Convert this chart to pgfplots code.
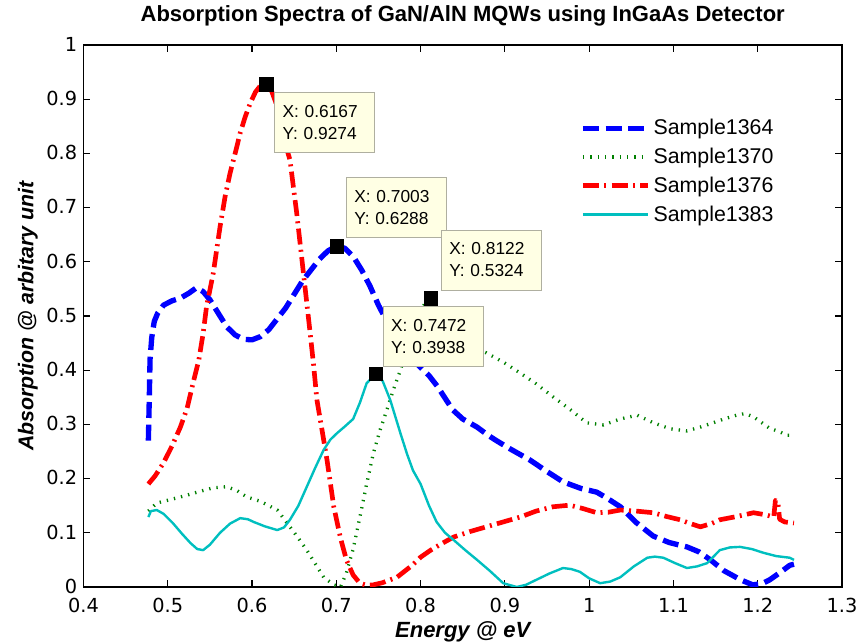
\documentclass[border=0pt]{standalone}
\usepackage{fontspec}
\setmainfont{Liberation Sans}
\newfontfamily\tickfont{DejaVu Sans}
\usepackage{pgfplots}
\pgfplotsset{compat=1.18}
\definecolor{tipfill}{RGB}{255,255,228}
\definecolor{tipdraw}{RGB}{175,175,160}
\definecolor{mgreen}{RGB}{0,128,0}
\definecolor{mcyan}{RGB}{0,191,191}
\tikzset{tip/.style={draw=tipdraw, fill=tipfill, line width=0.6pt, font=\fontsize{13}{16.5}\selectfont, align=left, text width=63pt, inner xsep=6pt, inner ysep=0pt, minimum height=45pt}}
\begin{document}
\begin{tikzpicture}
\begin{axis}[
  scale only axis, width=568.9pt, height=406.5pt,
  xmin=0.4, xmax=1.3, ymin=0, ymax=1,
  xtick={0.4,0.5,0.6,0.7,0.8,0.9,1,1.1,1.2,1.3},
  ytick={0,0.1,0.2,0.3,0.4,0.5,0.6,0.7,0.8,0.9,1},
  tick align=inside, tick pos=both,
  major tick length=5pt,
  axis line style={line width=0.9pt},
  every tick/.style={black, line width=0.8pt},
  /pgf/number format/assume math mode=true,
  tick label style={font=\tickfont\fontsize{14.5}{14.5}\selectfont},
  xticklabel style={anchor=north, inner sep=0pt, yshift=-8pt},
  yticklabel style={anchor=east, inner sep=0pt, xshift=-4.5pt, yshift=0.5pt},
  title={Absorption Spectra of GaN/AlN MQWs using InGaAs Detector},
  title style={at={(axis description cs:0.5,1.0277)}, anchor=base, font=\bfseries\fontsize{16.5}{16.5}\selectfont},
  xlabel={Energy @ eV},
  xlabel style={at={(axis description cs:0.5,-0.0923)}, anchor=base, font=\bfseries\itshape\fontsize{16.5}{16.5}\selectfont},
  ylabel={Absorption @ arbitary unit},
  ylabel style={at={(axis description cs:-0.0659,0.5)}, anchor=base, font=\bfseries\itshape\fontsize{16}{16}\selectfont},
  legend style={at={(axis description cs:0.6546,0.868)}, anchor=north west, draw=none, fill=white, inner sep=0pt, font=\fontsize{16}{16}\selectfont, row sep=4.5pt, nodes={inner sep=2pt}},
  legend cell align=left,
  legend image code/.code={\draw[#1] (-3pt,0pt) -- (46pt,0pt);},
]
\addplot[blue, line width=4pt, dash pattern=on 12pt off 5pt, line join=round] coordinates {
(0.477,0.27) (0.478,0.34) (0.479,0.42) (0.481,0.46) (0.484,0.49) (0.488,0.505) (0.495,0.52)
(0.505,0.528) (0.515,0.533) (0.525,0.542) (0.534,0.552) (0.542,0.545) (0.550,0.53) (0.560,0.505)
(0.570,0.48) (0.580,0.465) (0.590,0.457) (0.600,0.456) (0.610,0.462) (0.620,0.475) (0.630,0.495)
(0.640,0.515) (0.650,0.54) (0.660,0.565) (0.670,0.585) (0.680,0.605) (0.690,0.62) (0.700,0.629)
(0.710,0.625) (0.720,0.61) (0.730,0.585) (0.740,0.555) (0.750,0.52) (0.760,0.49) (0.770,0.46)
(0.780,0.435) (0.790,0.42) (0.800,0.405) (0.810,0.39) (0.820,0.37) (0.838,0.327) (0.850,0.31)
(0.867,0.295) (0.880,0.28) (0.890,0.27) (0.906,0.255) (0.930,0.234) (0.950,0.213) (0.969,0.194)
(0.990,0.182) (1.009,0.175) (1.020,0.165) (1.037,0.148) (1.055,0.12) (1.076,0.094) (1.095,0.082)
(1.116,0.074) (1.130,0.065) (1.144,0.05) (1.160,0.03) (1.180,0.013) (1.194,0.004) (1.205,0.006)
(1.214,0.013) (1.225,0.025) (1.238,0.04) (1.243,0.042)};
\addlegendentry{Sample1364}
\addplot[mgreen, line width=2.5pt, dash pattern=on 1pt off 4.5pt] coordinates {
(0.477,0.14) (0.487,0.155) (0.50,0.16) (0.515,0.166) (0.535,0.175) (0.554,0.183) (0.57,0.185)
(0.582,0.178) (0.594,0.166) (0.610,0.158) (0.630,0.142) (0.645,0.111) (0.655,0.09) (0.665,0.068)
(0.675,0.043) (0.685,0.018) (0.697,0.004) (0.705,0.0) (0.712,0.026) (0.720,0.07) (0.728,0.129)
(0.736,0.19) (0.744,0.247) (0.752,0.29) (0.760,0.327) (0.768,0.365) (0.776,0.40) (0.786,0.45)
(0.796,0.50) (0.806,0.525) (0.812,0.532) (0.820,0.52) (0.835,0.49) (0.850,0.46) (0.865,0.44)
(0.878,0.432) (0.898,0.415) (0.918,0.395) (0.937,0.375) (0.957,0.351) (0.977,0.328) (0.997,0.303)
(1.017,0.299) (1.037,0.31) (1.057,0.317) (1.076,0.303) (1.096,0.292) (1.116,0.288) (1.132,0.295)
(1.147,0.303) (1.160,0.31) (1.175,0.317) (1.185,0.32) (1.195,0.314) (1.205,0.303) (1.214,0.293)
(1.225,0.287) (1.235,0.28) (1.243,0.28)};
\addlegendentry{Sample1370}
\addplot[red, line width=3.5pt, dash pattern=on 12pt off 4pt on 1.5pt off 4pt, line join=round] coordinates {
(0.477,0.19) (0.485,0.205) (0.495,0.229) (0.505,0.26) (0.515,0.295) (0.523,0.33) (0.530,0.376)
(0.537,0.42) (0.542,0.468) (0.546,0.517) (0.554,0.579) (0.562,0.664) (0.568,0.72) (0.574,0.764)
(0.580,0.80) (0.586,0.838) (0.592,0.868) (0.598,0.893) (0.604,0.913) (0.610,0.925) (0.6167,0.9274)
(0.622,0.92) (0.628,0.895) (0.633,0.856) (0.639,0.82) (0.645,0.788) (0.653,0.69) (0.661,0.579)
(0.669,0.468) (0.673,0.41) (0.677,0.345) (0.683,0.29) (0.689,0.234) (0.697,0.148) (0.705,0.09)
(0.712,0.05) (0.720,0.022) (0.728,0.007) (0.736,0.003) (0.744,0.004) (0.755,0.008) (0.772,0.018)
(0.790,0.04) (0.800,0.055) (0.812,0.068) (0.825,0.08) (0.839,0.092) (0.858,0.102) (0.878,0.111)
(0.898,0.12) (0.918,0.129) (0.937,0.14) (0.957,0.148) (0.977,0.151) (0.992,0.145) (1.009,0.137)
(1.023,0.138) (1.037,0.142) (1.056,0.14) (1.076,0.137) (1.092,0.13) (1.108,0.124) (1.120,0.117)
(1.132,0.111) (1.145,0.117) (1.155,0.124) (1.175,0.13) (1.195,0.137) (1.210,0.133) (1.219,0.129)
(1.221,0.16) (1.224,0.155) (1.226,0.125) (1.232,0.12) (1.243,0.118)};
\addlegendentry{Sample1376}
\addplot[mcyan, line width=1.8pt, line join=round] coordinates {
(0.477,0.129) (0.480,0.14) (0.487,0.142) (0.495,0.135) (0.506,0.118) (0.517,0.098) (0.527,0.081)
(0.535,0.07) (0.542,0.068) (0.550,0.078) (0.562,0.1) (0.574,0.117) (0.586,0.127) (0.595,0.125)
(0.602,0.12) (0.615,0.112) (0.630,0.105) (0.638,0.11) (0.645,0.124) (0.655,0.15) (0.665,0.185)
(0.675,0.22) (0.685,0.253) (0.693,0.272) (0.701,0.284) (0.710,0.296) (0.720,0.31) (0.728,0.34)
(0.736,0.376) (0.7472,0.3938) (0.755,0.38) (0.764,0.345) (0.776,0.284) (0.784,0.245) (0.791,0.215)
(0.800,0.19) (0.810,0.15) (0.819,0.12) (0.829,0.1) (0.839,0.087) (0.853,0.068) (0.867,0.05)
(0.882,0.03) (0.898,0.007) (0.914,0.0) (0.925,0.004) (0.937,0.013) (0.953,0.025) (0.969,0.035)
(0.979,0.033) (0.989,0.028) (1.000,0.016) (1.013,0.007) (1.025,0.01) (1.037,0.018) (1.053,0.038)
(1.069,0.054) (1.078,0.056) (1.088,0.054) (1.102,0.044) (1.116,0.035) (1.128,0.038) (1.140,0.044)
(1.155,0.068) (1.167,0.073) (1.179,0.074) (1.193,0.07) (1.207,0.063) (1.222,0.057) (1.238,0.054)
(1.243,0.05)};
\addlegendentry{Sample1383}
\addplot[only marks, mark=square*, mark size=5pt, black, forget plot] coordinates {
(0.6167,0.9274) (0.7003,0.6288) (0.8122,0.5324) (0.7472,0.3938)};
\node[tip, anchor=north west, xshift=6pt, yshift=-6pt] at (axis cs:0.6167,0.9274) {X: 0.6167\\Y: 0.9274};
\node[tip, anchor=south west, xshift=7pt, yshift=6pt] at (axis cs:0.7003,0.6288) {X: 0.7003\\Y: 0.6288};
\node[tip, anchor=south west, xshift=7.5pt, yshift=6pt] at (axis cs:0.8122,0.5324) {X: 0.8122\\Y: 0.5324};
\node[tip, anchor=south west, xshift=5pt, yshift=5pt] at (axis cs:0.7472,0.3938) {X: 0.7472\\Y: 0.3938};
\end{axis}
\pgfresetboundingbox
\path[use as bounding box] ([xshift=-62.6pt,yshift=-42.75pt]current axis.south west) rectangle ([xshift=11.25pt,yshift=33.75pt]current axis.north east);
\end{tikzpicture}
\end{document}
